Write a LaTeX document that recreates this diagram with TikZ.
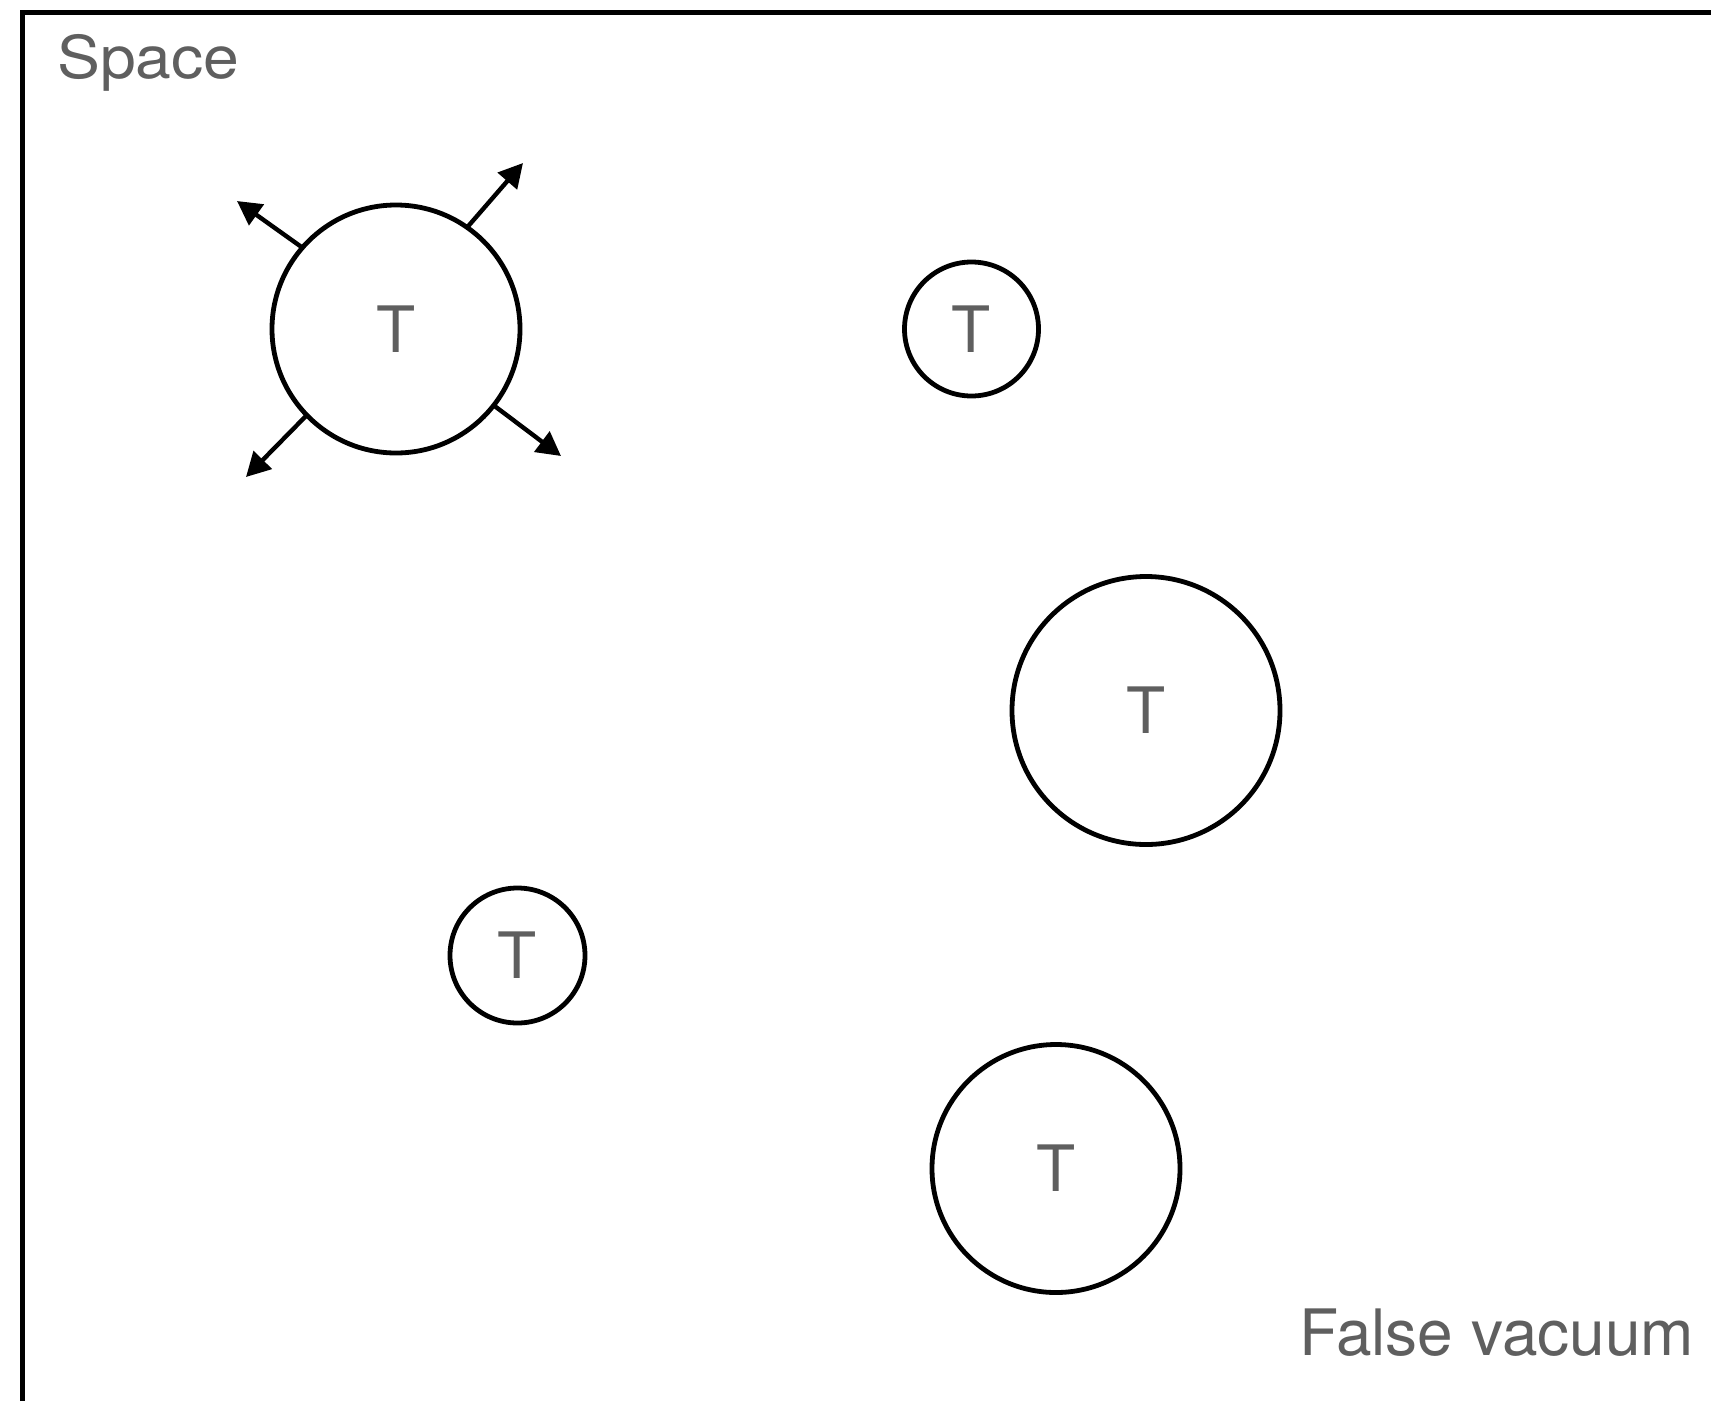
\documentclass[tikz,border=0pt]{standalone}
\usepackage{fontspec}
\setmainfont{TeX Gyre Heros}
\usetikzlibrary{arrows.meta}
\definecolor{txtgray}{HTML}{5F5F5F}
\tikzset{
  bubble/.style={circle, draw=black, line width=4.8pt, inner sep=0pt, outer sep=0pt,
    text=txtgray, font=\fontsize{64}{70}\selectfont},
  label/.style={text=txtgray, inner sep=0pt, anchor=base west},
  push/.style={line width=4.4pt, -{Triangle[length=24pt,width=25pt]}}
}
\begin{document}
\begin{tikzpicture}[x=1pt,y=-1pt]
\useasboundingbox (0,0) rectangle (1711,1401);
\fill[white] (0,0) rectangle (1711,1401);
\coordinate (fbl) at (22.5,1401);
\coordinate (ftl) at (22.5,12.5);
\coordinate (ftr) at (1711,12.5);
\draw[line width=5pt] (fbl) -- (ftl) -- (ftr);
\node[label, font=\fontsize{59}{66}\selectfont] (space) at (57,78) {\scalebox{1.09}[1]{Space}};
\node[label, font=\fontsize{64}{70}\selectfont] (fv) at (1299,1355) {False vacuum};
\node[bubble, minimum size=248pt] (b1) at (396,329) {T};
\node[bubble, minimum size=134pt] (b2) at (971.5,329) {T};
\node[bubble, minimum size=268pt] (b3) at (1146,710.5) {T};
\node[bubble, minimum size=135pt] (b4) at (517.5,955.5) {T};
\node[bubble, minimum size=248pt] (b5) at (1056,1168.5) {T};
\coordinate (aul) at (237,201);
\coordinate (aur) at (523,163);
\coordinate (all) at (246,477);
\coordinate (alr) at (561,456);
\draw[push] (b1.139) -- (aul);
\draw[push] (b1.55) -- (aur);
\draw[push] (b1.224) -- (all);
\draw[push] (b1.322) -- (alr);
\end{tikzpicture}
\end{document}
